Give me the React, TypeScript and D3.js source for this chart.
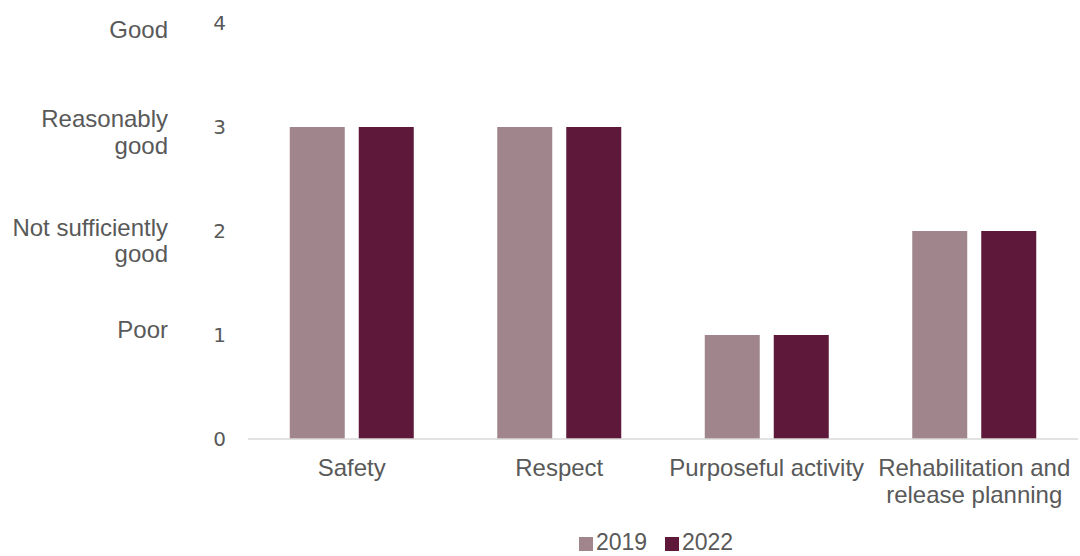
import React from "react";
import * as d3 from "d3";

const categories = ["Safety", "Respect", "Purposeful activity", "Rehabilitation and release planning"];
const categoryLines = [["Safety"], ["Respect"], ["Purposeful activity"], ["Rehabilitation and", "release planning"]];
const series = ["2019", "2022"];
const values2019 = [3, 3, 1, 2];
const values2022 = [3, 3, 1, 2];
const yTicks = [0, 1, 2, 3, 4];
const ratingLabels = [
  { v: 4, lines: ["Good"], offsets: [7] },
  { v: 3, lines: ["Reasonably", "good"], offsets: [-8, 19] },
  { v: 2, lines: ["Not sufficiently", "good"], offsets: [-3, 23] },
  { v: 1, lines: ["Poor"], offsets: [-5] },
];
const colors = ["#A0868C", "#5E1839"];

export default function App() {
  const W = 1080, H = 556;
  const left = 248, right = 1078, top = 23, bottom = 439;
  const x = d3.scaleBand<string>().domain(categories).range([left, right]);
  const y = d3.scaleLinear().domain([0, 4]).range([bottom, top]);
  const barW = 55, gap = 14;
  const data = [values2019, values2022];
  return (
    <div style={{ position: "absolute", left: 0, top: 0 }}>
      <svg width={W} height={H} style={{ display: "block", fontFamily: "Liberation Sans, Arial, sans-serif" }}>
        <rect width={W} height={H} fill="#fff" />
        {data.map((vals, si) =>
          vals.map((v, i) => {
            const cx = x(categories[i])! + x.bandwidth() / 2;
            const bx = si === 0 ? cx - gap / 2 - barW : cx + gap / 2;
            return <rect key={`${si}-${i}`} x={bx} y={y(v)} width={barW} height={y(0) - y(v)} fill={colors[si]} />;
          })
        )}
        <line x1={left} x2={right} y1={y(0)} y2={y(0)} stroke="#D9D9D9" strokeWidth={1.5} />
        {yTicks.map((t) => (
          <text key={t} x={226} y={y(t)} dy="0.35em" textAnchor="end" fontSize={20} fill="#595959" fontFamily="DejaVu Sans, sans-serif">{t}</text>
        ))}
        {ratingLabels.map((r) =>
          r.lines.map((ln, j) => (
            <text key={`${r.v}-${j}`} x={168} y={y(r.v) + r.offsets[j]} dy="0.35em" textAnchor="end" fontSize={24} fill="#595959">{ln}</text>
          ))
        )}
        {categories.map((c, i) =>
          categoryLines[i].map((ln, j) => (
            <text key={`${c}-${j}`} x={x(c)! + x.bandwidth() / 2} y={468 + j * 27} dy="0.35em" textAnchor="middle" fontSize={24} fill="#595959">{ln}</text>
          ))
        )}
        {series.map((s, i) => {
          const lx = 579 + i * 86;
          return (
            <g key={s}>
              <rect x={lx} y={537} width={14} height={14} fill={colors[i]} />
              <text x={lx + 17} y={550} fontSize={23} fill="#595959">{s}</text>
            </g>
          );
        })}
      </svg>
    </div>
  );
}
